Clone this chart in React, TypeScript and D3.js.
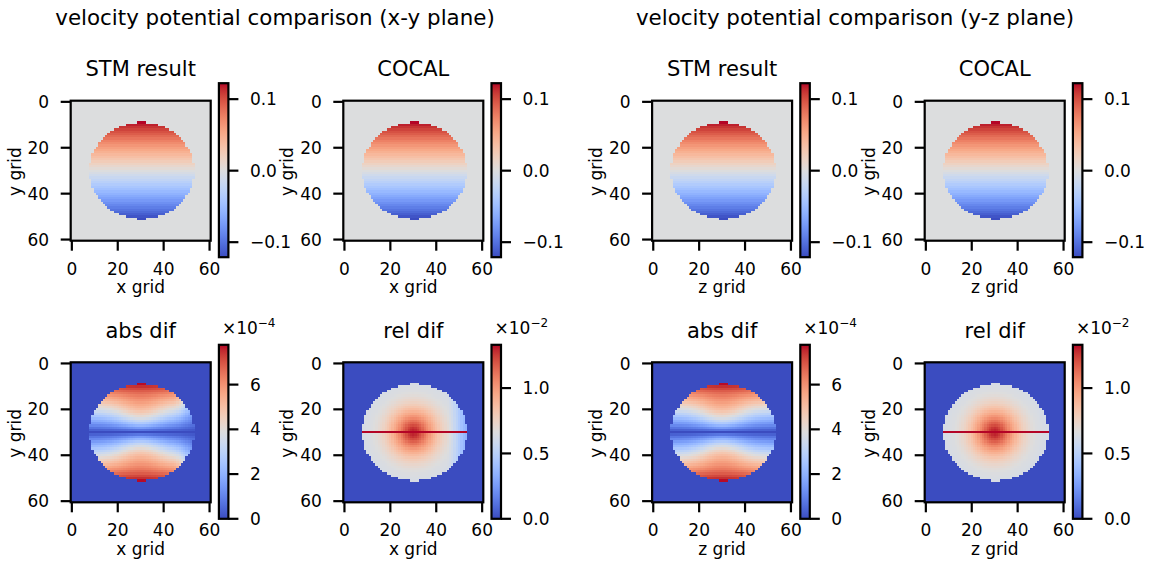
import React from "react";
import * as d3 from "d3";

// ---------------- data ----------------
const GRID_N = 61; // 0..60 grid points in each direction
const AXIS_TICKS = [0, 20, 40, 60];

const PLANES = ["x-y", "y-z"];
const PLANE_XLABEL = ["x grid", "z grid"];
const PANEL_TITLES = ["STM result", "COCAL", "abs dif", "rel dif"];

// star support (elliptic staircase region)
const MASK_CX = 30.5;
const MASK_CY = 30;
const MASK_RX = 22.8;
const MASK_RY = 21.1;

// velocity potential: zero on row 30, slope per grid row
const PHI_ZERO_ROW = 30;
const PHI_PER_ROW = 0.005824;

// relative difference radial profile (units 1e-2), radius in grid cells
const REL_PROFILE_R = [0, 2, 4, 6, 8, 10, 12, 14, 16, 18, 20, 22];
const REL_PROFILE = [1.32, 1.27, 1.17, 1.06, 0.96, 0.87, 0.79, 0.73, 0.685, 0.655, 0.64, 0.625];
// x-y plane: lower relative difference near the right rim
const XY_EDGE_COLS = [44, 45, 46, 47, 48, 49, 50, 51, 52, 53];
const XY_EDGE_FACTOR = [1.0, 0.99, 0.96, 0.92, 0.86, 0.8, 0.73, 0.66, 0.6, 0.55];

// colour ranges
const PHI_RANGE = [-0.121, 0.1223];
const ABS_RANGE = [0, 7.78e-4];
const REL_RANGE = [0, 1.331e-2];
const PHI_TICKS = [-0.1, 0.0, 0.1];
const ABS_TICKS = [0, 2e-4, 4e-4, 6e-4];
const REL_TICKS = [0, 0.5e-2, 1.0e-2];

// matplotlib "coolwarm" colormap, 33 samples
const COOLWARM = [
  "rgb(59,76,192)", "rgb(68,90,204)", "rgb(77,104,215)", "rgb(87,117,225)",
  "rgb(98,130,234)", "rgb(108,142,241)", "rgb(119,154,247)", "rgb(130,165,251)",
  "rgb(141,176,254)", "rgb(152,185,255)", "rgb(163,194,255)", "rgb(174,201,253)",
  "rgb(184,208,249)", "rgb(194,213,244)", "rgb(204,217,238)", "rgb(213,219,229)",
  "rgb(221,221,221)", "rgb(229,216,209)", "rgb(236,211,197)", "rgb(241,204,184)",
  "rgb(245,196,172)", "rgb(247,187,159)", "rgb(247,177,147)", "rgb(247,167,134)",
  "rgb(244,154,123)", "rgb(241,141,111)", "rgb(236,127,99)", "rgb(229,112,89)",
  "rgb(222,96,77)", "rgb(213,80,66)", "rgb(203,62,56)", "rgb(192,40,47)",
  "rgb(180,4,38)",
];

// ---------------- layout ----------------
const W = 1154;
const H = 562;
const FONT = "DejaVu Sans";
const LEFT0 = 70.7;
const COL_STEP = 272.6;
const HALF_DX = 581.4;
const ROW_TOP = [100.7, 362.3];
const AX = 140;
const CB_DX = 148.2;
const CB_W = 9.5;
const CB_DY = -17.5;
const CB_H = 174;
const LW = 2.2;
const TICK_LEN = 10;

const cwScale = d3
  .scaleLinear<string>()
  .domain(COOLWARM.map((_, i) => i / (COOLWARM.length - 1)))
  .range(COOLWARM)
  .interpolate(d3.interpolateRgb)
  .clamp(true);

const relProfile = d3.scaleLinear().domain(REL_PROFILE_R).range(REL_PROFILE).clamp(true);
const edgeFactor = d3.scaleLinear().domain(XY_EDGE_COLS).range(XY_EDGE_FACTOR).clamp(true);

type Field = number[][];

function buildFields(plane: number) {
  const phi: Field = [];
  const abs: Field = [];
  const rel: Field = [];
  for (let j = 0; j < GRID_N; j++) {
    const pr: number[] = [];
    const ar: number[] = [];
    const rr: number[] = [];
    for (let i = 0; i < GRID_N; i++) {
      const inside =
        ((i - MASK_CX) / MASK_RX) ** 2 + ((j - MASK_CY) / MASK_RY) ** 2 <= 1;
      if (!inside) {
        pr.push(0);
        ar.push(0);
        rr.push(0);
        continue;
      }
      const p = PHI_PER_ROW * (PHI_ZERO_ROW - j);
      const r = Math.hypot(i - 30, j - 30);
      let rv = relProfile(r) * 1e-2;
      if (plane === 0) rv *= edgeFactor(i);
      pr.push(p);
      ar.push(Math.abs(p) * rv);
      rr.push(j === PHI_ZERO_ROW ? REL_RANGE[1] : rv);
    }
    phi.push(pr);
    abs.push(ar);
    rel.push(rr);
  }
  return { phi, abs, rel };
}

const FIELDS = PLANES.map((_, k) => buildFields(k));

function fmtTick(v: number, kind: string) {
  let s = "";
  if (kind === "phi") s = d3.format(".1f")(v);
  else if (kind === "abs") s = d3.format("d")(Math.round(v / 1e-4));
  else s = d3.format(".1f")(v / 1e-2);
  return s.replace("-", "\u2212");
}

function Panel(props: {
  id: string;
  left: number;
  top: number;
  title: string;
  xlabel: string;
  data: Field;
  range: number[];
  ticks: number[];
  kind: string;
}) {
  const { id, left, top, title, xlabel, data, range, ticks, kind } = props;
  const xs = d3.scaleLinear().domain([-0.5, GRID_N - 0.5]).range([left, left + AX]);
  const ys = d3.scaleLinear().domain([-0.5, GRID_N - 0.5]).range([top, top + AX]);
  const norm = d3.scaleLinear().domain(range).range([0, 1]).clamp(true);
  const cbLeft = left + CB_DX;
  const cbTop = top + CB_DY;
  const cbY = d3.scaleLinear().domain(range).range([cbTop + CB_H, cbTop]);

  const cells: React.ReactNode[] = [];
  data.forEach((row, j) => {
    row.forEach((v, i) => {
      const x0 = xs(i - 0.5);
      const y0 = ys(j - 0.5);
      cells.push(
        <rect
          key={`${i}-${j}`}
          x={x0}
          y={y0}
          width={xs(i + 0.5) - x0 + 0.4}
          height={ys(j + 0.5) - y0 + 0.4}
          fill={cwScale(norm(v))}
        />
      );
    });
  });

  const gradId = `grad-${id}`;
  const exp = kind === "abs" ? "\u22124" : kind === "rel" ? "\u22122" : null;

  return (
    <g>
      <defs>
        <linearGradient id={gradId} x1="0" y1="1" x2="0" y2="0">
          {COOLWARM.map((c, k) => (
            <stop key={k} offset={`${(k / (COOLWARM.length - 1)) * 100}%`} stopColor={c} />
          ))}
        </linearGradient>
      </defs>
      <g shapeRendering="crispEdges">{cells}</g>
      <rect x={left} y={top} width={AX} height={AX} fill="none" stroke="#000" strokeWidth={LW} />
      {/* x ticks */}
      {AXIS_TICKS.map((t) => (
        <g key={`xt${t}`}>
          <line x1={xs(t)} x2={xs(t)} y1={top + AX} y2={top + AX + TICK_LEN} stroke="#000" strokeWidth={LW} />
          <text x={xs(t)} y={top + AX + 34} textAnchor="middle" fontSize={17} fontFamily={FONT}>
            {t}
          </text>
        </g>
      ))}
      {/* y ticks */}
      {AXIS_TICKS.map((t) => (
        <g key={`yt${t}`}>
          <line x1={left - TICK_LEN} x2={left} y1={ys(t)} y2={ys(t)} stroke="#000" strokeWidth={LW} />
          <text x={left - 21.5} y={ys(t)} dy="0.36em" textAnchor="end" fontSize={17} fontFamily={FONT}>
            {t}
          </text>
        </g>
      ))}
      <text x={left + AX / 2} y={top + AX + 52.5} textAnchor="middle" fontSize={17} fontFamily={FONT}>
        {xlabel}
      </text>
      <text
        transform={`translate(${left - 50},${top + AX / 2 + 1}) rotate(-90)`}
        textAnchor="middle"
        fontSize={17}
        fontFamily={FONT}
      >
        y grid
      </text>
      <text x={left + AX / 2} y={top - 24.5} textAnchor="middle" fontSize={21} fontFamily={FONT}>
        {title}
      </text>
      {/* colorbar */}
      <rect x={cbLeft} y={cbTop} width={CB_W} height={CB_H} fill={`url(#${gradId})`} />
      <rect x={cbLeft} y={cbTop} width={CB_W} height={CB_H} fill="none" stroke="#000" strokeWidth={LW} />
      {ticks.map((t) => (
        <g key={`ct${t}`}>
          <line
            x1={cbLeft + CB_W}
            x2={cbLeft + CB_W + TICK_LEN}
            y1={cbY(t)}
            y2={cbY(t)}
            stroke="#000"
            strokeWidth={LW}
          />
          <text x={cbLeft + CB_W + 21.5} y={cbY(t)} dy="0.36em" fontSize={17} fontFamily={FONT}>
            {fmtTick(t, kind)}
          </text>
        </g>
      ))}
      {exp && (
        <text x={cbLeft + 3} y={cbTop - 11} fontSize={17} fontFamily={FONT}>
          {"\u00d710"}
          <tspan dy={-7} fontSize={12}>
            {exp}
          </tspan>
        </text>
      )}
    </g>
  );
}

export default function App() {
  const panels: React.ReactNode[] = [];
  PLANES.forEach((plane, k) => {
    const f = FIELDS[k];
    const base = LEFT0 + k * HALF_DX;
    const defs = [
      { title: PANEL_TITLES[0], data: f.phi, range: PHI_RANGE, ticks: PHI_TICKS, kind: "phi", c: 0, r: 0 },
      { title: PANEL_TITLES[1], data: f.phi, range: PHI_RANGE, ticks: PHI_TICKS, kind: "phi", c: 1, r: 0 },
      { title: PANEL_TITLES[2], data: f.abs, range: ABS_RANGE, ticks: ABS_TICKS, kind: "abs", c: 0, r: 1 },
      { title: PANEL_TITLES[3], data: f.rel, range: REL_RANGE, ticks: REL_TICKS, kind: "rel", c: 1, r: 1 },
    ];
    defs.forEach((d, n) => {
      panels.push(
        <Panel
          key={`${plane}-${n}`}
          id={`p${k}${n}`}
          left={base + d.c * COL_STEP}
          top={ROW_TOP[d.r]}
          title={d.title}
          xlabel={PLANE_XLABEL[k]}
          data={d.data}
          range={d.range}
          ticks={d.ticks}
          kind={d.kind}
        />
      );
    });
  });

  return (
    <div style={{ position: "absolute", left: 0, top: 0 }}>
      <svg width={W} height={H} viewBox={`0 0 ${W} ${H}`} style={{ display: "block", background: "#fff" }}>
        {PLANES.map((plane, k) => (
          <text
            key={plane}
            x={275 + k * 580}
            y={25}
            textAnchor="middle"
            fontSize={21.4}
            fontFamily={FONT}
          >
            {`velocity potential comparison (${plane} plane)`}
          </text>
        ))}
        {panels}
      </svg>
    </div>
  );
}
